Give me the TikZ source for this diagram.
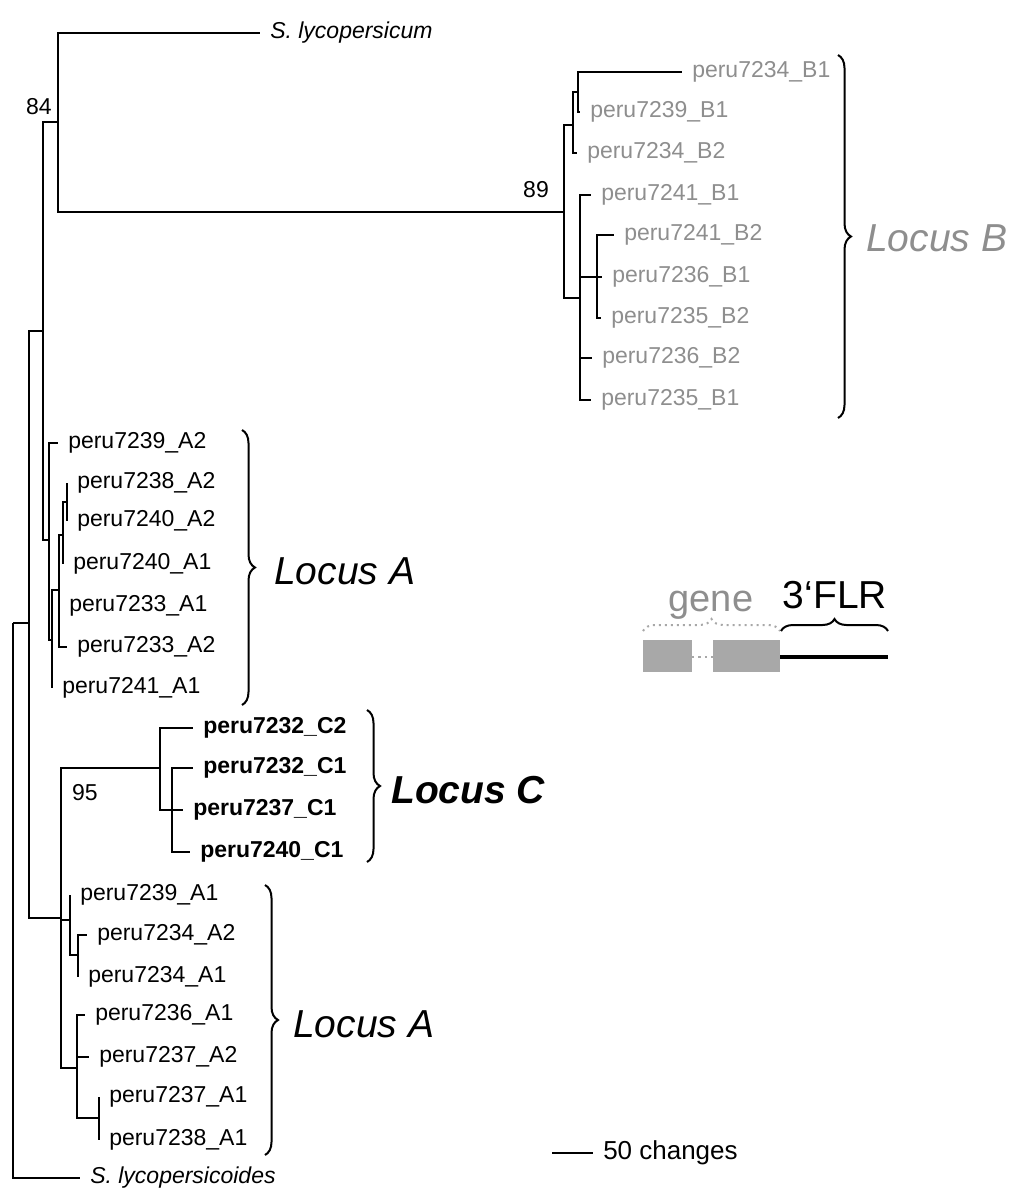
\documentclass[tikz,border=0pt]{standalone}
\usepackage{fontspec}
\setmainfont{Liberation Sans}
\usetikzlibrary{decorations.pathreplacing}
\definecolor{lbgray}{HTML}{8E8E8E}
\definecolor{boxgray}{HTML}{A8A8A8}

\begin{document}
\begin{tikzpicture}[x=0.5pt, y=-0.5pt, line width=1.25pt,
  leaf/.style={anchor=west, inner xsep=4.5pt, inner ysep=1pt, font=\fontsize{11.5}{13}\selectfont},
  leafB/.style={leaf, text=lbgray},
  leafC/.style={leaf, font=\fontsize{11.5}{13}\selectfont\bfseries},
  outgrp/.style={leaf, font=\fontsize{11.5}{13}\selectfont\itshape},
  boot/.style={inner sep=0pt, font=\fontsize{11.5}{13}\selectfont},
  locus/.style={anchor=west, inner sep=0pt, font=\fontsize{19.5}{22}\selectfont\itshape},
  lbrace/.style={decorate, line width=1pt, decoration={brace, amplitude=6.5pt}}]

\useasboundingbox (0,0) rectangle (1010,1193);

% === Internal nodes ===
\coordinate (root) at (13,623);
\coordinate (n1)   at (29,623);
\coordinate (n2)   at (43,331);
\coordinate (n84)  at (58,122);
% locus B clade
\coordinate (nB)   at (564,212);
\coordinate (nB1)  at (573,125);
\coordinate (nB11) at (578,92);
\coordinate (nB2)  at (580,298);
\coordinate (nB21) at (597,277);
% upper locus A clade
\coordinate (nAu)  at (49,540);
\coordinate (nAu2) at (52,640);
\coordinate (nAu3) at (59,590);
\coordinate (nAu4) at (63,535);
\coordinate (nAu5) at (67,502);
% locus C + lower locus A
\coordinate (nC0)  at (61,918);
\coordinate (nC)   at (160,768);
\coordinate (nC2)  at (172,810);
\coordinate (nAl1) at (70,920);
\coordinate (nAl3) at (78,955);
\coordinate (nAl2) at (77,1068);
\coordinate (nAl4) at (99,1118);

% === Leaves ===
\node[outgrp] (slyc) at (260,33) {S. lycopersicum};
\node[outgrp] (slyd) at (80,1178) {S. lycopersicoides};

\node[leafB] (b34b1) at (682,72)  {peru7234\_B1};
\node[leafB] (b39b1) at (580,112) {peru7239\_B1};
\node[leafB] (b34b2) at (577,153) {peru7234\_B2};
\node[leafB] (b41b1) at (591,195) {peru7241\_B1};
\node[leafB] (b41b2) at (614,235) {peru7241\_B2};
\node[leafB] (b36b1) at (602,277) {peru7236\_B1};
\node[leafB] (b35b2) at (601,318) {peru7235\_B2};
\node[leafB] (b36b2) at (592,358) {peru7236\_B2};
\node[leafB] (b35b1) at (591,400) {peru7235\_B1};

\node[leaf] (a39a2) at (58,443) {peru7239\_A2};
\node[leaf] (a38a2) at (67,483) {peru7238\_A2};
\node[leaf] (a40a2) at (67,521) {peru7240\_A2};
\node[leaf] (a40a1) at (63,564) {peru7240\_A1};
\node[leaf] (a33a1) at (59,606) {peru7233\_A1};
\node[leaf] (a33a2) at (67,647) {peru7233\_A2};
\node[leaf] (a41a1) at (52,688) {peru7241\_A1};

\node[leafC] (c32c2) at (193,728) {peru7232\_C2};
\node[leafC] (c32c1) at (193,768) {peru7232\_C1};
\node[leafC] (c37c1) at (183,810) {peru7237\_C1};
\node[leafC] (c40c1) at (190,852) {peru7240\_C1};

\node[leaf] (l39a1) at (70,895)  {peru7239\_A1};
\node[leaf] (l34a2) at (87,935)  {peru7234\_A2};
\node[leaf] (l34a1) at (78,977)  {peru7234\_A1};
\node[leaf] (l36a1) at (85,1015) {peru7236\_A1};
\node[leaf] (l37a2) at (89,1057) {peru7237\_A2};
\node[leaf] (l37a1) at (99,1097) {peru7237\_A1};
\node[leaf] (l38a1) at (99,1140) {peru7238\_A1};

% === Branches ===
\draw (root) |- (n1);
\draw (root) |- (slyd.west);
\draw (n1) |- (n2);
\draw (n1) |- (nC0);
\draw (n2) |- (n84);
\draw (n2) |- (nAu);
\draw (n84) |- (slyc.west);
\draw (n84) |- (nB);

\draw (nB) |- (nB1);
\draw (nB) |- (nB2);
\draw (nB1) |- (nB11);
\draw (nB1) |- (b34b2.west);
\draw (nB11) |- (b34b1.west);
\draw (nB11) |- (b39b1.west);
\draw (nB2) |- (b41b1.west);
\draw (nB2) |- (nB21);
\draw (nB2) |- (b36b2.west);
\draw (nB2) |- (b35b1.west);
\draw (nB21) |- (b41b2.west);
\draw (nB21) |- (b36b1.west);
\draw (nB21) |- (b35b2.west);

\draw (nAu) |- (a39a2.west);
\draw (nAu) |- (nAu2);
\draw (nAu2) |- (nAu3);
\draw (nAu2) |- (a41a1.west);
\draw (nAu3) |- (nAu4);
\draw (nAu3) |- (a33a1.west);
\draw (nAu3) |- (a33a2.west);
\draw (nAu4) |- (nAu5);
\draw (nAu4) |- (a40a1.west);
\draw (nAu5) |- (a38a2.west);
\draw (nAu5) |- (a40a2.west);

\draw (nC0) |- (nC);
\draw (nC0) |- (nAl1);
\draw (nC0) |- (nAl2);
\draw (nC) |- (c32c2.west);
\draw (nC) |- (nC2);
\draw (nC2) |- (c32c1.west);
\draw (nC2) |- (c37c1.west);
\draw (nC2) |- (c40c1.west);

\draw (nAl1) |- (l39a1.west);
\draw (nAl1) |- (nAl3);
\draw (nAl3) |- (l34a2.west);
\draw (nAl3) |- (l34a1.west);
\draw (nAl2) |- (l36a1.west);
\draw (nAl2) |- (l37a2.west);
\draw (nAl2) |- (nAl4);
\draw (nAl4) |- (l37a1.west);
\draw (nAl4) |- (l38a1.west);

% Bootstrap values
\node[boot, anchor=east] (bs84) at (53,107) {84};
\node[boot] (bs89) at (536,190) {89};
\node[boot] (bs95) at (85,793) {95};

% === Locus braces ===
\draw[lbrace] (838,55) -- (838,418);
\node[locus, text=lbgray] (locB) at (865,238) {Locus B};

\draw[lbrace] (242,430) -- (242,705);
\node[locus] (locAu) at (273,571) {Locus A};

\draw[lbrace] (367,710) -- (367,862);
\node[locus, font=\fontsize{19.5}{22}\selectfont\bfseries\itshape] (locC) at (390,790) {Locus C};

\draw[lbrace] (265,885) -- (265,1155);
\node[locus] (locAl) at (292,1024) {Locus A};

% === Gene sketch ===
\fill[boxgray] (643,640) rectangle (692,672);
\fill[boxgray] (713,640) rectangle (780,672);
\draw[boxgray, dotted, line width=1.2pt] (692,657) -- (713,657);
\draw[line width=1.8pt] (780,657) -- (888,657);
\draw[boxgray, dotted, line width=1pt, decorate, decoration={brace, amplitude=6pt}] (643,631) -- (780,631);
\draw[line width=1pt, decorate, decoration={brace, amplitude=6pt}] (781,631) -- (888,631);
\node[text=lbgray, font=\fontsize{19}{21}\selectfont] (gene) at (711,605) {gene};
\node[font=\fontsize{19.5}{21}\selectfont] (flr) at (835,595) {3‘FLR};

% Scale bar
\coordinate (sb0) at (552,1153);
\node[leaf, font=\fontsize{13}{15}\selectfont] (sbtxt) at (593,1153) {50 changes};
\draw (sb0) -- (sbtxt.west);

\end{tikzpicture}
\end{document}
